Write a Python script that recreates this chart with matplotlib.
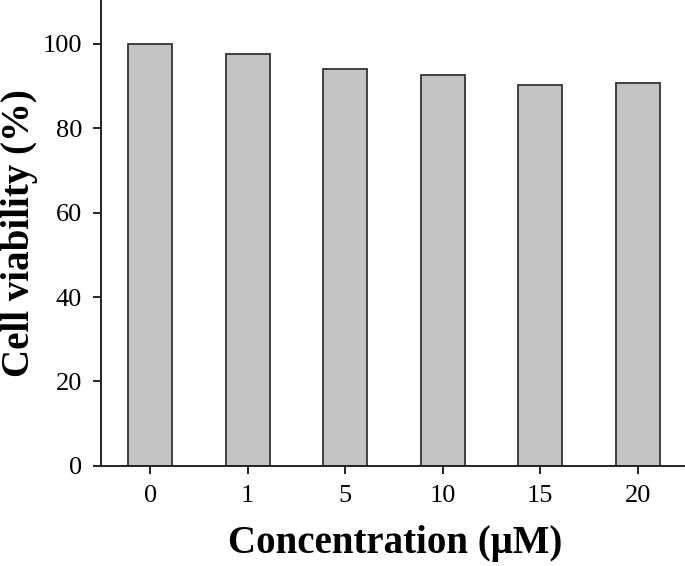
import numpy as np
import matplotlib
matplotlib.use("Agg")
import matplotlib.pyplot as plt

# concentrations (uM) and viability (%)
concentrations = ['0', '1', '5', '10', '15', '20']
viability = [100.0, 97.6, 94.1, 92.7, 90.3, 90.8]

plt.rcParams['font.family'] = ['Liberation Serif', 'DejaVu Serif']

fig = plt.figure(figsize=(6.85, 5.66), dpi=100)
ax = fig.add_axes([0.148, 0.177, 0.85, 0.823])

x = np.arange(len(concentrations))
ax.bar(x, viability, width=0.45, color='#c3c3c3', edgecolor='#333333', linewidth=1.3)

ax.set_xlim(-0.5, 5.47)
ax.set_ylim(0, 110.4)
ax.set_xticks(x)
ax.set_xticklabels(concentrations)
ax.set_yticks([0, 20, 40, 60, 80, 100])

for side in ['top', 'right']:
    ax.spines[side].set_visible(False)
for side in ['left', 'bottom']:
    ax.spines[side].set_linewidth(1.4)
    ax.spines[side].set_color('#222222')

ax.tick_params(axis='both', direction='out', length=6, width=1.4, labelsize=19,
               color='#222222', pad=8)

ax.set_xlabel('Concentration (μM)', fontsize=28, fontweight='bold')
ax.set_ylabel('Cell viability (%)', fontsize=28, fontweight='bold')
ax.xaxis.set_label_coords(0.504, -0.128)
ax.yaxis.set_label_coords(-0.109, 0.5)

fig.savefig('out.png', dpi=100)
